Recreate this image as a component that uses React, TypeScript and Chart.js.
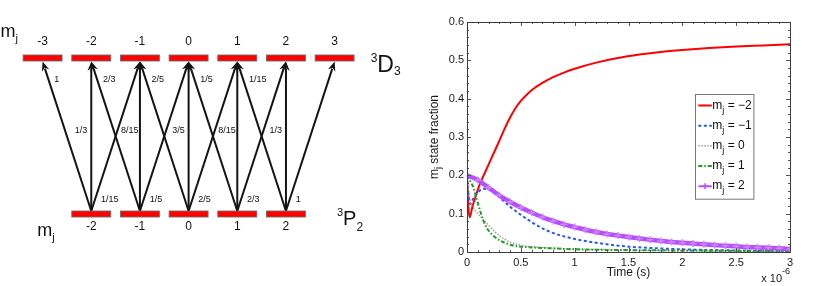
import { useEffect, useRef } from "react";
import { Chart, registerables } from "chart.js";

Chart.register(...registerables);

const FONT = '"Liberation Sans", Arial, sans-serif';

// ---------------- Left: level diagram data ----------------
const upperLevels = [-3, -2, -1, 0, 1, 2, 3]; // 3D3 m_j
const lowerLevels = [-2, -1, 0, 1, 2]; // 3P2 m_j
const deltaM = [-1, 0, 1];
const topLabelM = [-3, -2, -1, 0, 1];
const topLabels = ["1", "2/3", "2/5", "1/5", "1/15"];
const midLabelM = [-2, -1, 0, 1, 2];
const midLabels = ["1/3", "8/15", "3/5", "8/15", "1/3"];
const botLabelM = [-2, -1, 0, 1, 2];
const botLabels = ["1/15", "1/5", "2/5", "2/3", "1"];
const upperTerm = { mult: "3", letter: "D", j: "3" };
const lowerTerm = { mult: "3", letter: "P", j: "2" };

// ---------------- Right: state fractions vs time (x 1e-6 s) ----------------
const redT = [0, 0.008, 0.024, 0.05, 0.08, 0.12, 0.16, 0.2, 0.25, 0.3, 0.35, 0.4, 0.45, 0.5, 0.55, 0.6, 0.7, 0.8, 0.9, 1.0, 1.2, 1.4, 1.6, 1.8, 2.0, 2.25, 2.5, 2.75, 3.0];
const redY = [0.2, 0.14, 0.09, 0.118, 0.145, 0.178, 0.203, 0.228, 0.259, 0.29, 0.322, 0.351, 0.375, 0.394, 0.409, 0.422, 0.441, 0.456, 0.468, 0.478, 0.494, 0.506, 0.515, 0.522, 0.527, 0.532, 0.536, 0.539, 0.542];

const blueT = [0, 0.01, 0.03, 0.06, 0.1, 0.15, 0.2, 0.25, 0.3, 0.4, 0.5, 0.6, 0.75, 1.0, 1.25, 1.5, 1.75, 2.0, 2.5, 3.0];
const blueY = [0.2, 0.16, 0.125, 0.14, 0.155, 0.165, 0.163, 0.155, 0.143, 0.118, 0.097, 0.078, 0.055, 0.034, 0.022, 0.014, 0.01, 0.007, 0.004, 0.002];

const greyT = [0, 0.01, 0.03, 0.06, 0.1, 0.15, 0.2, 0.25, 0.3, 0.35, 0.4, 0.5, 0.6, 0.75, 1.0, 1.5, 2.0, 2.5, 3.0];
const greyY = [0.2, 0.17, 0.132, 0.115, 0.1, 0.085, 0.07, 0.055, 0.043, 0.033, 0.026, 0.018, 0.014, 0.011, 0.008, 0.005, 0.003, 0.002, 0.001];

const greenT = [0, 0.02, 0.04, 0.06, 0.08, 0.1, 0.13, 0.17, 0.2, 0.25, 0.3, 0.35, 0.4, 0.5, 0.6, 0.75, 1.0, 1.5, 2.0, 2.5, 3.0];
const greenY = [0.2, 0.19, 0.18, 0.168, 0.148, 0.128, 0.1, 0.07, 0.056, 0.041, 0.031, 0.024, 0.019, 0.014, 0.012, 0.01, 0.007, 0.005, 0.004, 0.003, 0.002];

const purpleT = [0, 0.1, 0.2, 0.3, 0.4, 0.5, 0.6, 0.7, 0.8, 0.9, 1.0, 1.1, 1.2, 1.3, 1.4, 1.5, 1.6, 1.7, 1.8, 1.9, 2.0, 2.1, 2.2, 2.3, 2.4, 2.5, 2.6, 2.7, 2.8, 2.9, 3.0];
const purpleY = [0.2, 0.188, 0.168, 0.148, 0.131, 0.116, 0.103, 0.091, 0.081, 0.072, 0.065, 0.058, 0.052, 0.047, 0.043, 0.039, 0.035, 0.032, 0.029, 0.026, 0.024, 0.022, 0.02, 0.018, 0.016, 0.015, 0.013, 0.012, 0.011, 0.01, 0.008];

const legendValues = ["\u22122", "\u22121", "0", "1", "2"];
const xTitle = "Time (s)";
const yTitleParts = ["m", "j", " state fraction"];
const xExponent = "-6";

type Part = { t: string; size: number; dy?: number };

function richText(ctx: CanvasRenderingContext2D, parts: Part[], x: number, y: number, align = "left") {
  let total = 0;
  for (const p of parts) {
    ctx.font = `${p.size}px ${FONT}`;
    total += ctx.measureText(p.t).width;
  }
  let cx = align === "center" ? x - total / 2 : align === "right" ? x - total : x;
  ctx.textAlign = "left";
  ctx.textBaseline = "alphabetic";
  for (const p of parts) {
    ctx.font = `${p.size}px ${FONT}`;
    ctx.fillText(p.t, cx, y + (p.dy || 0));
    cx += ctx.measureText(p.t).width;
  }
}

function drawArrow(ctx: CanvasRenderingContext2D, x0: number, y0: number, x1: number, y1: number) {
  const a = Math.atan2(y1 - y0, x1 - x0);
  const dx = Math.cos(a), dy = Math.sin(a);
  const L = 9.5, W = 3.8;
  ctx.beginPath();
  ctx.moveTo(x0, y0);
  ctx.lineTo(x1 - dx * (L - 2), y1 - dy * (L - 2));
  ctx.stroke();
  ctx.beginPath();
  ctx.moveTo(x1, y1);
  ctx.lineTo(x1 - dx * L - dy * W, y1 - dy * L + dx * W);
  ctx.lineTo(x1 - dx * (L - 3), y1 - dy * (L - 3));
  ctx.lineTo(x1 - dx * L + dy * W, y1 - dy * L - dx * W);
  ctx.closePath();
  ctx.fill();
}

const diagramPlugin = {
  id: "diagram",
  afterDraw(chart: any) {
    const ctx: CanvasRenderingContext2D = chart.ctx;
    const xs = chart.scales.x, ys = chart.scales.y;
    const px = (m: number) => xs.getPixelForValue(m);
    const py = (v: number) => ys.getPixelForValue(v);
    const halfW = px(0.4) - px(0);
    const barH = 6;
    ctx.save();
    // arrows
    ctx.strokeStyle = "#141414";
    ctx.fillStyle = "#141414";
    ctx.lineWidth = 2;
    for (const m of lowerLevels) {
      for (const d of deltaM) {
        const mu = m + d;
        if (!upperLevels.includes(mu)) continue;
        drawArrow(ctx, px(m), py(0) - barH / 2, px(mu), py(1) + barH / 2 + 0.5);
      }
    }
    // levels
    const drawBar = (m: number, lev: number) => {
      const cx = px(m), cy = py(lev);
      ctx.fillStyle = "#ff0000";
      ctx.fillRect(cx - halfW, cy - barH / 2, halfW * 2, barH);
      ctx.strokeStyle = "rgba(110,110,110,0.9)";
      ctx.lineWidth = 1;
      ctx.strokeRect(cx - halfW, cy - barH / 2, halfW * 2, barH);
    };
    upperLevels.forEach((m) => drawBar(m, 1));
    lowerLevels.forEach((m) => drawBar(m, 0));
    // m_j numbers
    ctx.fillStyle = "#111";
    ctx.font = `12px ${FONT}`;
    ctx.textAlign = "center";
    ctx.textBaseline = "middle";
    upperLevels.forEach((m) => ctx.fillText(String(m), px(m), py(1) - 16.5));
    lowerLevels.forEach((m) => ctx.fillText(String(m), px(m), py(0) + 12.5));
    // transition labels
    ctx.font = `9px ${FONT}`;
    ctx.textAlign = "left";
    topLabels.forEach((t, i) => ctx.fillText(t, px(topLabelM[i] + 0.24), py(0.865)));
    ctx.textAlign = "center";
    midLabels.forEach((t, i) => ctx.fillText(t, px(midLabelM[i] - 0.21), py(0.538)));
    ctx.textAlign = "left";
    botLabels.forEach((t, i) => ctx.fillText(t, px(botLabelM[i] + 0.2), py(0.093)));
    // m_j labels
    ctx.fillStyle = "#111";
    const uLeft = px(upperLevels[0]) - 42;
    richText(ctx, [{ t: "m", size: 18 }, { t: "j", size: 11, dy: 5 }], uLeft, py(1) - 21);
    const lLeft = px(lowerLevels[0]) - 54;
    richText(ctx, [{ t: "m", size: 18 }, { t: "j", size: 11, dy: 5 }], lLeft, py(0) + 22);
    // term symbols
    const uT = px(upperLevels[upperLevels.length - 1]) + 36;
    richText(ctx, [
      { t: upperTerm.mult, size: 12, dy: -10 },
      { t: upperTerm.letter, size: 23 },
      { t: upperTerm.j, size: 12, dy: 3 },
    ], uT, py(1) + 14);
    const lT = px(lowerLevels[lowerLevels.length - 1]) + 51;
    richText(ctx, [
      { t: lowerTerm.mult, size: 11, dy: -9 },
      { t: lowerTerm.letter, size: 20 },
      { t: lowerTerm.j, size: 12, dy: 6 },
    ], lT, py(0) + 11);
    ctx.restore();
  },
};

const axesPlugin = {
  id: "matlabAxes",
  afterDraw(chart: any) {
    const ctx: CanvasRenderingContext2D = chart.ctx;
    const a = chart.chartArea;
    const xs = chart.scales.x, ys = chart.scales.y;
    ctx.save();
    // ticks
    ctx.strokeStyle = "#555";
    ctx.lineWidth = 1;
    const nx = Math.round((xs.max - xs.min) / 0.1);
    for (let i = 0; i <= nx; i++) {
      const v = xs.min + i * 0.1;
      const x = Math.round(xs.getPixelForValue(v)) + 0.5;
      const len = i % 5 === 0 ? 4 : 2;
      ctx.beginPath();
      ctx.moveTo(x, a.bottom);
      ctx.lineTo(x, a.bottom - len);
      ctx.moveTo(x, a.top);
      ctx.lineTo(x, a.top + len);
      ctx.stroke();
    }
    const ny = Math.round((ys.max - ys.min) / 0.02);
    for (let i = 0; i <= ny; i++) {
      const v = ys.min + i * 0.02;
      const y = Math.round(ys.getPixelForValue(v)) + 0.5;
      const len = i % 5 === 0 ? 4 : 2;
      ctx.beginPath();
      ctx.moveTo(a.left, y);
      ctx.lineTo(a.left + len, y);
      ctx.moveTo(a.right, y);
      ctx.lineTo(a.right - len, y);
      ctx.stroke();
    }
    // box
    ctx.strokeStyle = "#3c3c3c";
    ctx.strokeRect(Math.round(a.left) + 0.5, Math.round(a.top) + 0.5, Math.round(a.right - a.left), Math.round(a.bottom - a.top));

    // titles
    ctx.fillStyle = "#1a1a1a";
    richText(ctx, [{ t: xTitle, size: 12 }], (a.left + a.right) / 2, 276, "center");
    richText(ctx, [{ t: "x 10", size: 11 }, { t: xExponent, size: 9, dy: -8 }], a.right, 281.5, "right");
    ctx.save();
    ctx.translate(18, (a.top + a.bottom) / 2);
    ctx.rotate(-Math.PI / 2);
    richText(ctx, [
      { t: yTitleParts[0], size: 12 },
      { t: yTitleParts[1], size: 9, dy: 3 },
      { t: yTitleParts[2], size: 12 },
    ], 0, 0, "center");
    ctx.restore();

    // legend
    const lx = a.right - 94.7, ly = a.top + 72, lw = 58.4, lh = 104.7;
    ctx.fillStyle = "#fff";
    ctx.fillRect(Math.round(lx) + 0.5, Math.round(ly) + 0.5, lw, lh);
    ctx.strokeStyle = "#777";
    ctx.strokeRect(Math.round(lx) + 0.5, Math.round(ly) + 0.5, lw, lh);
    chart.data.datasets.forEach((ds: any, i: number) => {
      const ry = ly + 10.5 + i * 20.2;
      ctx.save();
      ctx.strokeStyle = ds.borderColor;
      ctx.lineWidth = Math.min(ds.borderWidth, 2);
      ctx.setLineDash(ds.borderDash || []);
      ctx.beginPath();
      ctx.moveTo(lx + 3, ry + 1);
      ctx.lineTo(lx + 16.5, ry + 1);
      ctx.stroke();
      if (ds.pointRadius > 0) {
        ctx.setLineDash([]);
        ctx.lineWidth = 1.5;
        const cx = lx + 9.75;
        ctx.beginPath();
        ctx.moveTo(cx - 3, ry + 1);
        ctx.lineTo(cx + 3, ry + 1);
        ctx.moveTo(cx, ry - 2);
        ctx.lineTo(cx, ry + 4);
        ctx.stroke();
      }
      ctx.restore();
      ctx.fillStyle = "#111";
      richText(ctx, [
        { t: "m", size: 12 },
        { t: "j", size: 9, dy: 4 },
        { t: " = " + legendValues[i], size: 12 },
      ], lx + 17, ry + 4);
    });
    ctx.restore();
  },
};

function toXY(t: number[], y: number[]) {
  return t.map((v, i) => ({ x: v, y: y[i] }));
}

export default function App() {
  const leftRef = useRef<HTMLCanvasElement>(null);
  const rightRef = useRef<HTMLCanvasElement>(null);

  useEffect(() => {
    const left = new Chart(leftRef.current as HTMLCanvasElement, {
      type: "scatter",
      data: { datasets: [] },
      options: {
        animation: false,
        responsive: false,
        events: [],
        layout: { padding: 0 },
        plugins: { legend: { display: false }, tooltip: { enabled: false } },
        scales: {
          x: { type: "linear", display: false, min: -3.875, max: 4.754 },
          y: { type: "linear", display: false, min: -0.4615, max: 1.3718 },
        },
      },
      plugins: [diagramPlugin],
    } as any);

    const mk = (t: number[], y: number[], color: string, width: number, dash: number[], order: number, extra: any = {}) => ({
      data: toXY(t, y),
      borderColor: color,
      backgroundColor: color,
      borderWidth: width,
      borderDash: dash,
      showLine: true,
      pointRadius: 0,
      cubicInterpolationMode: "monotone",
      fill: false,
      order,
      ...extra,
    });

    const right = new Chart(rightRef.current as HTMLCanvasElement, {
      type: "scatter",
      data: {
        datasets: [
          mk(redT, redY, "#ff0000", 2, [], 4),
          mk(blueT, blueY, "#2a55ff", 2, [3, 2.5], 3),
          mk(greyT, greyY, "#8c8c8c", 1.2, [1.5, 1.5], 2),
          mk(greenT, greenY, "#1f9e1f", 2, [4, 2, 1.5, 2], 1),
          mk(purpleT, purpleY, "#b94cff", 4.5, [], 0, {
            pointRadius: 3.5,
            pointStyle: "cross",
            pointBorderWidth: 1.5,
            pointBorderColor: "#c98aff",
          }),
        ],
      },
      options: {
        animation: false,
        responsive: false,
        events: [],
        layout: { padding: { top: 22, right: 40, left: 0, bottom: 0 } },
        plugins: { legend: { display: false }, tooltip: { enabled: false } },
        scales: {
          x: {
            type: "linear",
            min: 0,
            max: 3,
            grid: { display: false, drawTicks: false },
            border: { display: false },
            ticks: {
              stepSize: 0.5,
              padding: 4,
              color: "#1a1a1a",
              font: { family: FONT, size: 11 },
              callback: (v: any) => String(Math.round(Number(v) * 10) / 10),
            },
            afterFit: (s: any) => {
              s.height = 34;
            },
          },
          y: {
            type: "linear",
            min: 0,
            max: 0.6,
            grid: { display: false, drawTicks: false },
            border: { display: false },
            ticks: {
              stepSize: 0.1,
              padding: 3,
              color: "#1a1a1a",
              font: { family: FONT, size: 11 },
              callback: (v: any) => String(Math.round(Number(v) * 10) / 10),
            },
            afterFit: (s: any) => {
              s.width = 47;
            },
          },
        },
      },
      plugins: [axesPlugin],
    } as any);

    return () => {
      left.destroy();
      right.destroy();
    };
  }, []);

  return (
    <div style={{ position: "fixed", left: 0, top: 0, width: 830, height: 286, background: "#fff", overflow: "hidden" }}>
      <canvas ref={leftRef} width={420} height={286} style={{ position: "absolute", left: 0, top: 0, width: 420, height: 286 }} />
      <canvas ref={rightRef} width={410} height={286} style={{ position: "absolute", left: 420, top: 0, width: 410, height: 286 }} />
    </div>
  );
}
